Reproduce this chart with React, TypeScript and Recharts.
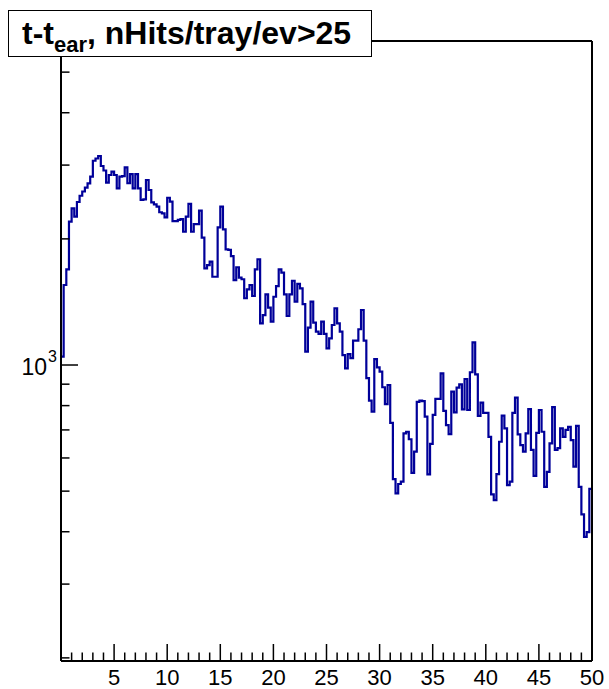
import { LineChart, Line, XAxis, YAxis } from "recharts";

// t - t_ear, 0.25 wide bins from 0 to 50, counts
const BIN_WIDTH = 0.25;
const COUNTS = [
  1047, 1552, 1692, 2200, 2366, 2259, 2449, 2535, 2595, 2652,
  2712, 2815, 3072, 3111, 3154, 2985, 2912, 2724, 2841, 2893,
  2841, 2641, 2815, 2825, 2963, 2715, 2856, 2641, 2856, 2641,
  2476, 2486, 2764, 2616, 2445, 2418, 2387, 2315, 2301, 2252,
  2507, 2453, 2206, 2206, 2219, 2231, 2080, 2259, 2423, 2080,
  2170, 2170, 2335, 2013, 1701, 1732, 1764, 1624, 1624, 2131,
  2387, 2108, 1887, 1882, 1820, 1595, 1711, 1616, 1602, 1443,
  1516, 1552, 1461, 1692, 1788, 1257, 1316, 1475, 1370, 1269,
  1455, 1543, 1692, 1661, 1475, 1309, 1475, 1589, 1416, 1561,
  1524, 1398, 1076, 1228, 1416, 1262, 1201, 1186, 1269, 1186,
  1096, 1158, 1246, 1366, 1257, 1201, 1056, 982, 1062, 1038,
  1143, 1143, 1217, 1353, 1143, 930, 822, 774, 1033, 987,
  964, 885, 807, 896, 728, 534, 494, 520, 527, 687,
  693, 665, 553, 621, 817, 822, 820, 753, 548, 648,
  760, 830, 830, 955, 777, 719, 684, 864, 771, 883,
  899, 784, 926, 781, 961, 1133, 950, 756, 813, 769,
  769, 674, 491, 476, 549, 656, 757, 706, 517, 527,
  769, 836, 683, 644, 621, 687, 785, 627, 544, 689,
  781, 693, 512, 556, 650, 793, 627, 633, 706, 674,
  700, 712, 662, 572, 716, 512, 440, 389, 399, 506,
];

const X_MAJOR = [5, 10, 15, 20, 25, 30, 35, 40, 45, 50];
const X_TICKS = [
  1, 2, 3, 4, 5, 6, 7, 8, 9, 10, 11, 12, 13, 14, 15, 16, 17, 18, 19, 20,
  21, 22, 23, 24, 25, 26, 27, 28, 29, 30, 31, 32, 33, 34, 35, 36, 37, 38, 39, 40,
  41, 42, 43, 44, 45, 46, 47, 48, 49, 50,
];
const Y_TICKS = [200, 300, 400, 500, 600, 700, 800, 900, 1000, 2000, 3000, 4000, 5000];
const Y_DOMAIN = [196.6, 5933];

const FONT = "'Liberation Sans', Arial, Helvetica, sans-serif";

const data = [
  ...COUNTS.map((v, i) => ({ x: i * BIN_WIDTH, v })),
  { x: COUNTS.length * BIN_WIDTH, v: COUNTS[COUNTS.length - 1] },
];

function XTick({ x, y, payload }: any) {
  const major = X_MAJOR.includes(payload.value);
  return (
    <g>
      <line x1={x} x2={x} y1={y} y2={y - (major ? 17 : 8.5)} stroke="#000" strokeWidth={1.5} />
      {major && (
        <text x={x} y={y + 24} textAnchor="middle" fontSize={22} fontFamily={FONT} fill="#000">
          {payload.value}
        </text>
      )}
    </g>
  );
}

function YTick({ x, y, payload }: any) {
  const major = payload.value === 1000;
  return (
    <g>
      <line x1={x} x2={x + (major ? 17 : 8.5)} y1={y} y2={y} stroke="#000" strokeWidth={1.5} />
      {major && (
        <text x={x - 14} y={y + 10} textAnchor="end" fontSize={23} fontFamily={FONT} fill="#000">
          10
        </text>
      )}
      {major && (
        <text x={x - 13} y={y - 3} textAnchor="start" fontSize={16} fontFamily={FONT} fill="#000">
          3
        </text>
      )}
    </g>
  );
}

export default function App() {
  return (
    <div style={{ position: "absolute", left: 0, top: 0, width: 609, height: 689, background: "#fff" }}>
      <LineChart width={609} height={689} data={data} margin={{ top: 40, right: 16, bottom: 27, left: 60 }}>
        <XAxis
          dataKey="x"
          type="number"
          domain={[0, 50]}
          ticks={X_TICKS}
          interval={0}
          height={1}
          tickSize={0}
          tickMargin={0}
          tick={XTick}
          tickLine={false}
          axisLine={{ stroke: "#000", strokeWidth: 2 }}
        />
        <XAxis
          xAxisId="top"
          orientation="top"
          type="number"
          dataKey="x"
          domain={[0, 50]}
          height={1}
          tick={false}
          tickLine={false}
          axisLine={{ stroke: "#000", strokeWidth: 2 }}
        />
        <YAxis
          type="number"
          scale="log"
          domain={Y_DOMAIN}
          allowDataOverflow
          ticks={Y_TICKS}
          interval={0}
          width={1}
          tickSize={0}
          tickMargin={0}
          tick={YTick}
          tickLine={false}
          axisLine={{ stroke: "#000", strokeWidth: 2 }}
        />
        <YAxis
          yAxisId="right"
          orientation="right"
          type="number"
          dataKey="v"
          domain={[0, 10000]}
          width={1}
          tick={false}
          tickLine={false}
          axisLine={{ stroke: "#000", strokeWidth: 2 }}
        />
        <Line
          dataKey="v"
          type="stepAfter"
          stroke="#000099"
          strokeWidth={2.2}
          dot={false}
          isAnimationActive={false}
        />
      </LineChart>
      <div
        style={{
          position: "absolute",
          left: 8,
          top: 10,
          width: 364,
          height: 47,
          border: "1.5px solid #000",
          background: "#fff",
          fontFamily: FONT,
          fontWeight: "bold",
          fontSize: 32,
          lineHeight: "44px",
          paddingLeft: 13,
          boxSizing: "border-box",
          whiteSpace: "nowrap",
        }}
      >
        t-t<sub style={{ fontSize: 22, verticalAlign: "-8px", lineHeight: 0 }}>ear</sub>, nHits/tray/ev&gt;25
      </div>
    </div>
  );
}
